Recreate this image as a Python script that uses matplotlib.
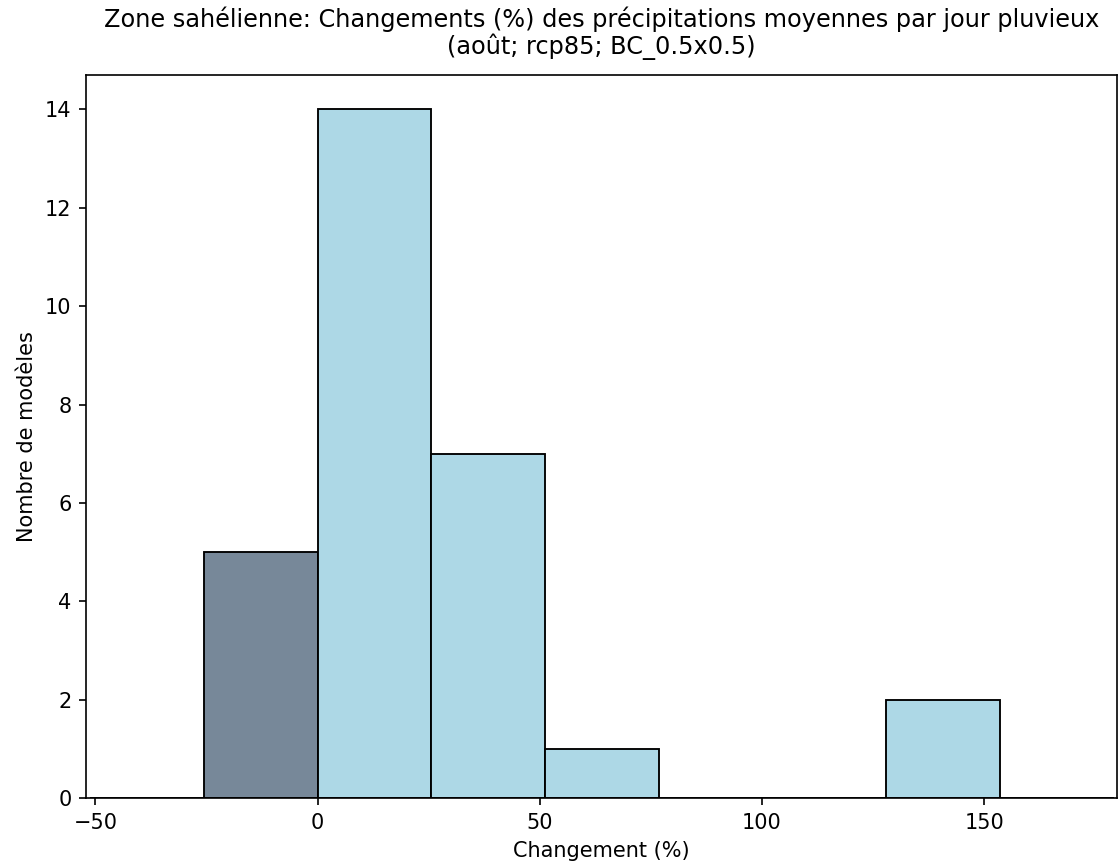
"""Histogramme des changements (%) des précipitations moyennes par jour pluvieux."""

import matplotlib

matplotlib.use("Agg")
import matplotlib.pyplot as plt

# Bornes des classes (%) et nombre de modèles par classe
bords_classes = [-51.2, -25.6, 0.0, 25.6, 51.2, 76.8, 102.4, 128.0, 153.6, 179.2]
nb_modeles = [0, 5, 14, 7, 1, 0, 0, 2, 0]

titre = ("Zone sahélienne: Changements (%) des précipitations moyennes par jour pluvieux\n"
         "(août; rcp85; BC_0.5x0.5)")

COULEUR_POS = "lightblue"
COULEUR_NEG = "lightslategray"

centres = [(a + b) / 2 for a, b in zip(bords_classes[:-1], bords_classes[1:])]

fig = plt.figure(figsize=(1119 / 150, 867 / 150), dpi=150)
ax = fig.add_axes([86 / 1119, 1 - 798 / 867, (1117 - 86) / 1119, (798 - 75) / 867])

_, _, barres = ax.hist(centres, bins=bords_classes, weights=nb_modeles,
                       color=COULEUR_POS, edgecolor="black", linewidth=0.9)
# classes négatives en gris
for b in barres:
    if b.get_x() + b.get_width() <= 0:
        b.set_facecolor(COULEUR_NEG)

ax.set_xlim(-52.1, 179.9)
ax.set_title(titre, fontsize=11.5, linespacing=1.1, pad=10)
ax.set_xlabel("Changement (%)")
ax.set_ylabel("Nombre de modèles")

fig.savefig("out.png", dpi=150)
